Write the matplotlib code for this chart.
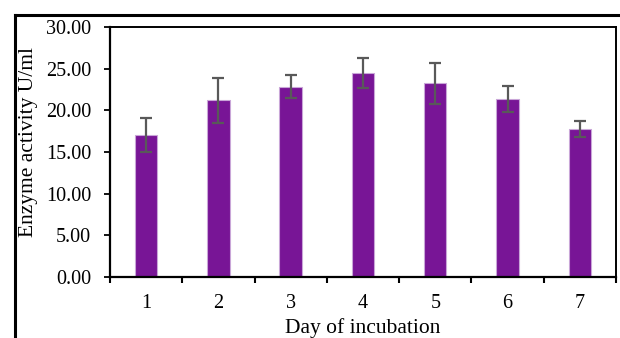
import matplotlib.pyplot as plt
from matplotlib.lines import Line2D

days = ['1', '2', '3', '4', '5', '6', '7']
activity = [17.04, 21.2, 22.84, 24.48, 23.24, 21.36, 17.72]
errors = [2.1, 2.7, 1.4, 1.83, 2.5, 1.6, 0.96]
yticks = [0, 5, 10, 15, 20, 25, 30]

plt.rcParams['font.family'] = ['Liberation Serif', 'DejaVu Serif']

fig = plt.figure(figsize=(6.2, 3.38), dpi=100)
ax = fig.add_axes([0.1774, 0.1805, 0.8161, 0.7396])

x = range(len(days))
ax.bar(x, activity, width=0.31, color='#781596', edgecolor='#c9a6d8',
       linewidth=0.8, zorder=2)
ax.errorbar(x, activity, yerr=errors, fmt='none', ecolor='#595959',
            elinewidth=1.6, capsize=4, capthick=1.6, zorder=3)

ax.set_xlim(-0.5, len(days) - 0.5)
ax.set_ylim(0, 30)
ax.set_yticks(yticks)
ax.set_yticklabels([f'{v:.2f}' for v in yticks])
ax.set_xticks(x)
ax.set_xticklabels(days)
ax.set_xticks([i - 0.5 for i in range(len(days) + 1)], minor=True)
ax.tick_params(axis='x', which='major', length=0, pad=12, labelsize=14.5)
ax.tick_params(axis='x', which='minor', length=4, width=1.5, direction='out')
ax.tick_params(axis='y', length=4.5, width=1.3, direction='out', pad=9,
               labelsize=14.5)

for side in ['left', 'bottom']:
    ax.spines[side].set_linewidth(1.6)
for side in ['top', 'right']:
    ax.spines[side].set_linewidth(1.4)

ax.set_ylabel('Enzyme activity U/ml', fontsize=15.5)
ax.set_xlabel('Day of incubation', fontsize=15.5, labelpad=4)
ax.yaxis.set_label_coords(-0.142, 0.54)

# outer frame, cut off at right and bottom
fig.add_artist(Line2D([15 / 620, 1.0], [1 - 15 / 338] * 2,
                      transform=fig.transFigure, color='black', lw=2.2))
fig.add_artist(Line2D([15 / 620] * 2, [0.0, 1 - 15 / 338],
                      transform=fig.transFigure, color='black', lw=2.2))

fig.savefig('out.png', dpi=100)
